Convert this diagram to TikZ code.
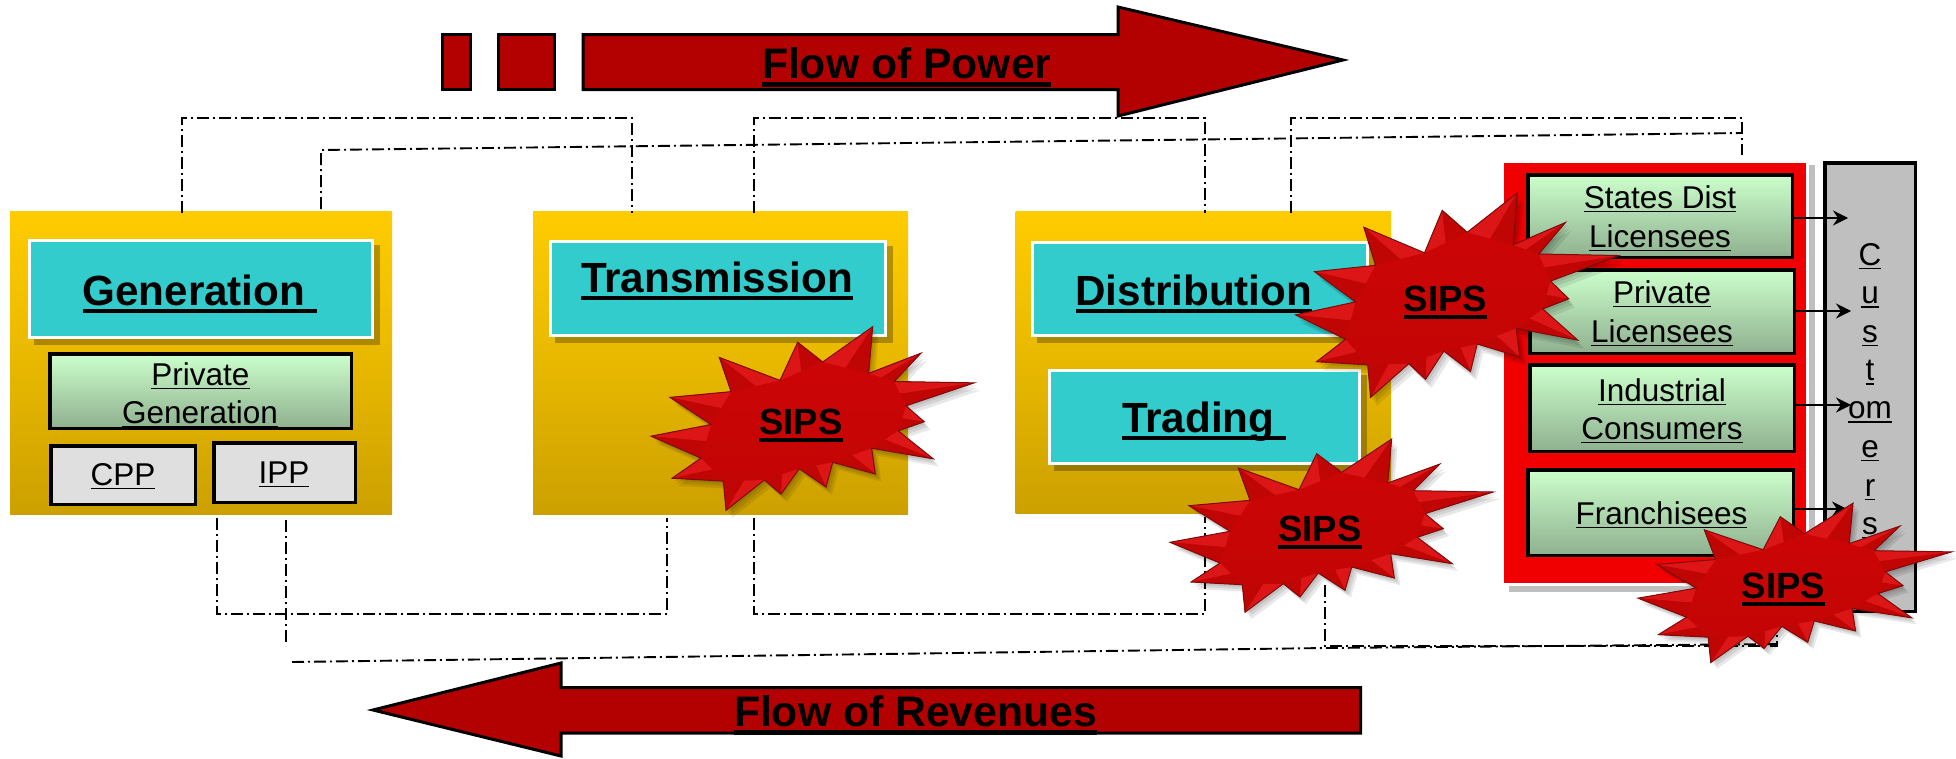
\documentclass[tikz,border=0pt]{standalone}
\usepackage{fontspec}
\setmainfont{Liberation Sans}
\usetikzlibrary{arrows.meta,calc}
\definecolor{goldtop}{HTML}{FFCC00}
\definecolor{goldbot}{HTML}{CCA000}
\definecolor{cyanbox}{HTML}{33CCCC}
\definecolor{greentop}{HTML}{CCFFCC}
\definecolor{greenbot}{HTML}{8FB08F}
\definecolor{darkred}{HTML}{B30000}
\definecolor{boxred}{HTML}{F00000}
\definecolor{sipstop}{HTML}{CE0505}
\definecolor{sipsbot}{HTML}{C20505}
\definecolor{sipslight}{HTML}{DC1616}
\definecolor{sipsdark}{HTML}{C00505}
\definecolor{sipsedge}{HTML}{7E0A0A}
\newcommand\ulbold[1]{\leavevmode\setbox0\hbox{#1}\rlap{\rule[-0.2em]{\wd0}{0.1em}}\box0}
\newcommand\ulreg[1]{\leavevmode\setbox0\hbox{#1}\rlap{\rule[-0.14em]{\wd0}{0.055em}}\box0}
\newcommand\fbig{\fontsize{42.2}{50}\selectfont\bfseries}
\newcommand\fflow{\fontsize{42.7}{50}\selectfont\bfseries}
\newcommand\fsips{\fontsize{36.5}{44}\selectfont\bfseries}
\newcommand\freg{\fontsize{31.5}{38}\selectfont}
\tikzset{
  flowline/.style={line width=1.9pt,dash pattern=on 12pt off 4pt on 2pt off 4pt},
  bigarrow/.style={fill=darkred,draw=black,line width=3pt,miter limit=10},
  goldbox/.style={rectangle,inner sep=0,outer sep=0,top color=goldtop,bottom color=goldbot,middle color=goldtop!55!goldbot},
  cyanrect/.style={rectangle,inner sep=0,outer sep=0,fill=cyanbox,draw=white,line width=3pt},
  greenrect/.style={rectangle,inner sep=0,outer sep=0,top color=greentop,bottom color=greenbot,draw=black,line width=3.5pt},
  grayrect/.style={rectangle,inner sep=0,outer sep=0,fill=gray!25!white,draw=black,line width=3.5pt},
  txt/.style={inner sep=0,outer sep=0,anchor=base},
  txtw/.style={inner sep=0,outer sep=0,anchor=base west},
  outflow/.style={line width=2.5pt,-{Stealth[length=15pt,width=15pt,inset=5pt]}},
}
% #1 style #2 name #3 x1 #4 y1 #5 x2 #6 y2 (outer extents)
\newcommand\rectnode[6]{\node[#1,minimum width={#5-#3},minimum height={#6-#4}] (#2) at ({(#3+#5)/2},{(#4+#6)/2}) {};}
\newcommand\inrect[7]{\node[#1,minimum width={#5-#3-#7},minimum height={#6-#4-#7}] (#2) at ({(#3+#5)/2},{(#4+#6)/2}) {};}
\newcommand\cyanrectn[5]{\fill[black,opacity=.27] ({#2+6},{#3+6}) rectangle ({#4+6},{#5+6});\inrect{cyanrect}{#1}{#2}{#3}{#4}{#5}{3}}
\def\starpath{(-81.7,-60)--(-21,-38.3)--(-3.3,-74.3)--(21.7,-55.7)--(71.7,-89)--(67.7,-45)--(120,-64)--(93.3,-37.3)--(173.3,-36)--(105,-14.3)--(123.3,0.7)--(97.3,9.3)--(132.3,35.7)--(70.7,25.7)--(74.3,50)--(31.7,39)--(25,62.3)--(-1.7,45)--(-20,69)--(-36.7,55.7)--(-75,84.3)--(-77.7,56.7)--(-129,54)--(-100,35)--(-150,14.3)--(-90,3.3)--(-131,-22.3)--(-70,-27.7)--cycle}
\newcommand\starcoords{%
 \path (-81.7,-60) coordinate (n1) (-21,-38.3) coordinate (n2) (-3.3,-74.3) coordinate (n3) (21.7,-55.7) coordinate (n4)
 (71.7,-89) coordinate (n5) (67.7,-45) coordinate (n6) (120,-64) coordinate (n7) (93.3,-37.3) coordinate (n8)
 (173.3,-36) coordinate (n9) (105,-14.3) coordinate (n10) (123.3,0.7) coordinate (n11) (97.3,9.3) coordinate (n12)
 (132.3,35.7) coordinate (n13) (70.7,25.7) coordinate (n14) (74.3,50) coordinate (n15) (31.7,39) coordinate (n16)
 (25,62.3) coordinate (n17) (-1.7,45) coordinate (n18) (-20,69) coordinate (n19) (-36.7,55.7) coordinate (n20)
 (-75,84.3) coordinate (n21) (-77.7,56.7) coordinate (n22) (-129,54) coordinate (n23) (-100,35) coordinate (n24)
 (-150,14.3) coordinate (n25) (-90,3.3) coordinate (n26) (-131,-22.3) coordinate (n27) (-70,-27.7) coordinate (n28);}
% #1 name #2 x #3 y #4 xscale #5 yscale
\newcommand\sipsstar[5]{%
 \begin{scope}[shift={(#2,#3)},xscale=#4,yscale=#5]
  \foreach \o in {2,4,6}{\fill[black,opacity=.09,shift={(\o,1.2*\o)}] \starpath;}
  \shade[top color=sipstop,bottom color=sipsbot] \starpath;
  \starcoords
  \begin{scope}
   \clip \starpath;
   \foreach \t/\a/\b in {1/2/28,3/2/4,5/4/6,7/6/8,9/8/10,11/10/12,13/12/14,15/14/16,17/16/18,19/18/20,21/20/22,23/24/22,25/26/24,27/28/26}{
     \fill[sipslight] (n\a)--(n\t)--($(n\a)!.5!(n\b)$)--cycle;
     \fill[sipsdark] (n\b)--(n\t)--($(n\a)!.5!(n\b)$)--cycle;
   }
  \end{scope}
  \draw[sipsedge,line width=1pt,line join=miter] \starpath;
 \end{scope}
 \node[txt] (#1) at (#2,{#3+13.5}) {\fsips\ulbold{SIPS}};}
\begin{document}
\begin{tikzpicture}[x=1pt,y=-1pt]
\useasboundingbox (0,0) rectangle (1956,758);
% coordinates for connectors
\coordinate (t1a) at (182,213); \coordinate (t1b) at (632,118); \coordinate (t1c) at (632,213);
\coordinate (t2a) at (754,213); \coordinate (t2b) at (1204.7,118); \coordinate (t2c) at (1204.7,213);
\coordinate (t3a) at (1291,213); \coordinate (t3b) at (1742,118); \coordinate (t3c) at (1742,155);
\coordinate (s1a) at (321,209); \coordinate (s1b) at (321,150); \coordinate (s1c) at (1742,133);
\coordinate (b1a) at (217,518); \coordinate (b1b) at (667,614); \coordinate (b1c) at (667,518);
\coordinate (b2a) at (754,518); \coordinate (b2b) at (1204.7,614); \coordinate (b2c) at (1204.7,517);
\coordinate (b3a) at (286,520); \coordinate (b3b) at (286,646);
\coordinate (b4a) at (292,662); \coordinate (b4b) at (1325,648); \coordinate (b4c) at (1777,644);
\coordinate (b5a) at (1325,585); \coordinate (b5b) at (1777,646); \coordinate (b5c) at (1777,590);
% gold panels
\rectnode{goldbox}{gold1}{10}{211}{392}{514}
\rectnode{goldbox}{gold2}{533}{211}{908}{514}
\rectnode{goldbox}{gold3}{1015.5}{211}{1391}{513}
% connectors
\draw[flowline] (t1a) |- (t1b) -- (t1c);
\draw[flowline] (t2a) |- (t2b) -- (t2c);
\draw[flowline] (t3a) |- (t3b) -- (t3c);
\draw[flowline] (s1a) -- (s1b) -- (s1c);
\draw[flowline] (b1a) |- (b1b) -- (b1c);
\draw[flowline] (b2a) |- (b2b) -- (b2c);
\draw[flowline] (b3a) -- (b3b);
\draw[flowline] (b4a) -- (b4b) -- (b4c);
\draw[flowline] (b5a) |- (b5b) -- (b5c);
% big arrows
\draw[bigarrow] (442.5,34.5) rectangle (470,89.5);
\draw[bigarrow] (498.5,34.5) rectangle (554.5,89.5);
\draw[bigarrow] (583,34.5) -- (1118,34.5) -- (1118,7) -- (1343,60) -- (1118,116) -- (1118,89.5) -- (583,89.5) -- cycle;
\node[txtw] (flowp) at (762,78) {\fflow\ulbold{Flow of Power}};
\draw[bigarrow] (1360.5,687.5) -- (561,687.5) -- (561,663) -- (373,710) -- (561,756) -- (561,733) -- (1360.5,733) -- cycle;
\node[txtw] (flowr) at (734,726) {\fflow\ulbold{Flow of Revenues}};
% cyan boxes
\cyanrectn{gen}{28}{239}{374}{339}
\cyanrectn{trans}{549}{240}{887}{337}
\cyanrectn{dist}{1031}{241}{1369}{337}
\cyanrectn{trad}{1048}{369}{1361}{465}
\node[txtw] (gent) at (82.5,305) {\fbig\ulbold{Generation\ }};
\node[txtw] (transt) at (581,292) {\fbig\ulbold{Transmission}};
\node[txtw] (distt) at (1075.5,305) {\fbig\ulbold{Distribution}};
\node[txtw] (tradt) at (1122,432) {\fbig\ulbold{Trading\ }};
% generation sub boxes
\inrect{greenrect}{pg}{48}{352}{353}{430}{3.5}
\node[txt] (pg1) at (200.5,385) {\freg\ulreg{Private}};
\node[txt] (pg2) at (200,423) {\freg\ulreg{Generation}};
\inrect{grayrect}{cpp}{49}{444}{197}{506}{3.5}
\inrect{grayrect}{ipp}{212}{441}{357}{504}{3.5}
\node[txt] (cppt) at (123,485) {\freg\ulreg{CPP}};
\node[txt] (ippt) at (284,483) {\freg\ulreg{IPP}};
% customers
\fill[gray!50!white] (1509,165) rectangle (1815,592);
\fill[white] (1504,163) rectangle (1809,586);
\fill[boxred] (1504,163) rectangle (1806,583);
\inrect{greenrect}{st}{1526}{173}{1794}{259}{3.5}
\inrect{greenrect}{pl}{1528}{268}{1796}{355}{3.5}
\inrect{greenrect}{ic}{1528}{363}{1796}{453}{3.5}
\inrect{greenrect}{fr}{1526}{468}{1795}{557}{3.5}
\node[txt] (st1) at (1660,208) {\freg\ulreg{States Dist}};
\node[txt] (st2) at (1660,247) {\freg\ulreg{Licensees}};
\node[txt] (pl1) at (1662,303) {\freg\ulreg{Private}};
\node[txt] (pl2) at (1662,342) {\freg\ulreg{Licensees}};
\node[txt] (ic1) at (1662,401) {\freg\ulreg{Industrial}};
\node[txt] (ic2) at (1662,439) {\freg\ulreg{Consumers}};
\node[txt] (fr1) at (1661.5,524) {\freg\ulreg{Franchisees}};
\inrect{rectangle,inner sep=0,outer sep=0,fill=gray!50!white,draw=black,line width=3.5pt}{cust}{1823}{161}{1917}{613}{3.5}
\foreach \n/\l/\y in {c1/C/265,c2/u/303.5,c3/s/342,c4/t/380.5,c5/om/418.5,c6/e/457,c7/r/496,c8/s/534}{
  \node[txt] (\n) at (1870,\y) {\freg\ulreg{\l}};
}
\coordinate (a1) at (1848,218); \coordinate (a2) at (1851,311); \coordinate (a3) at (1851,405); \coordinate (a4) at (1847,509);
\draw[outflow] (st.east |- a1) -- (a1);
\draw[outflow] (pl.east |- a2) -- (a2);
\draw[outflow] (ic.east |- a3) -- (a3);
\draw[outflow] (fr.east |- a4) -- (a4);
% SIPS stars
\sipsstar{sips1}{801}{421}{1}{1.06}
\sipsstar{sips2}{1445.5}{298}{1}{1.18}
\sipsstar{sips3}{1320}{528}{1}{1}
\sipsstar{sips4}{1783.5}{585}{0.97}{0.92}
\end{tikzpicture}
\end{document}
